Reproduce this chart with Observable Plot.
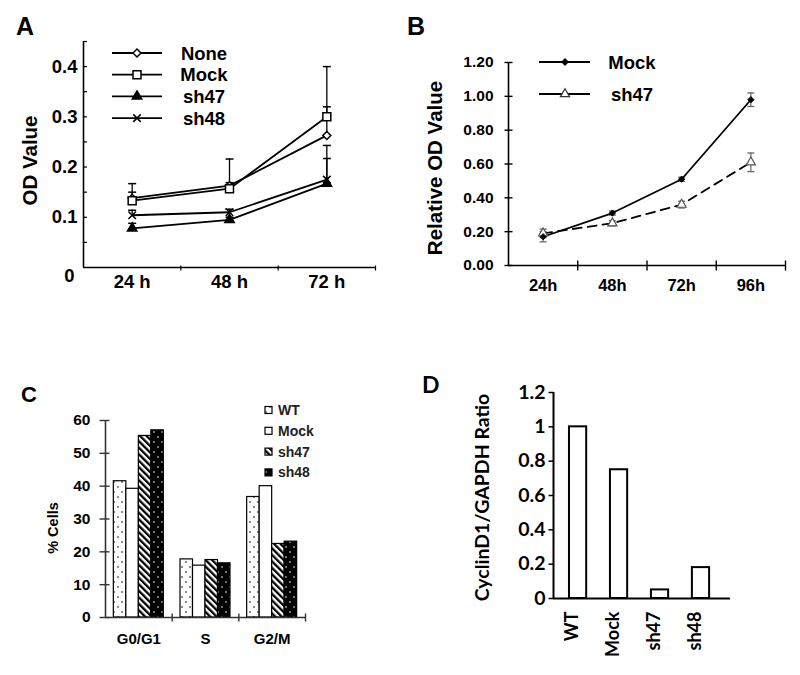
<!DOCTYPE html>
<html>
<head>
<meta charset="utf-8">
<script src="https://cdn.jsdelivr.net/npm/d3@7"></script>
<script src="https://cdn.jsdelivr.net/npm/@observablehq/plot@0.6"></script>
<style>
html,body{margin:0;padding:0;background:#fff;}
#fig{position:relative;width:800px;height:675px;overflow:hidden;background:#fff;}
#fig svg{position:absolute;}
</style>
</head>
<body>
<div id="fig"></div>
<script>
// ---------------- Panel A data ----------------
const aTimes = ["24 h", "48 h", "72 h"];
const aSeries = ["None", "Mock", "sh47", "sh48"];
const aNone = [0.138, 0.163, 0.263];
const aMock = [0.133, 0.157, 0.300];
const aSh47 = [0.078, 0.095, 0.167];
const aSh48 = [0.104, 0.110, 0.175];
const aNoneErr = [0.012, 0.006, 0.057];
const aMockErr = [0.034, 0.059, 0.100];
const aSh47Err = [0.010, 0.005, 0.050];
const aSh48Err = [0.010, 0.006, 0.068];
const aYTicks = [0.1, 0.2, 0.3, 0.4];
const aMinorTicks = [0.05, 0.1, 0.15, 0.2, 0.25, 0.3, 0.35, 0.4, 0.45];
const aYLabel = "OD Value";

// ---------------- Panel B data ----------------
const bTimes = ["24h", "48h", "72h", "96h"];
const bSeries = ["Mock", "sh47"];
const bMock = [0.17, 0.31, 0.51, 0.98];
const bSh47 = [0.19, 0.25, 0.36, 0.61];
const bMockErr = [0.03, 0.012, 0.012, 0.04];
const bSh47Err = [0.025, 0.015, 0.02, 0.055];
const bYTicks = [0, 0.2, 0.4, 0.6, 0.8, 1.0, 1.2];
const bYLabel = "Relative OD Value";

// ---------------- Panel C data ----------------
const cPhases = ["G0/G1", "S", "G2/M"];
const cSeries = ["WT", "Mock", "sh47", "sh48"];
const cWT = [41.5, 17.7, 36.7];
const cMock = [39.2, 15.8, 40.0];
const cSh47 = [55.3, 17.5, 22.4];
const cSh48 = [57.0, 16.5, 23.1];
const cYTicks = [0, 10, 20, 30, 40, 50, 60];
const cYLabel = "% Cells";

// ---------------- Panel D data ----------------
const dGroups = ["WT", "Mock", "sh47", "sh48"];
const dValues = [1.0, 0.75, 0.05, 0.18];
const dYTicks = [0, 0.2, 0.4, 0.6, 0.8, 1, 1.2];
const dYLabel = "CyclinD1/GAPDH Ratio";

// ---------------- helpers ----------------
const FONT = '"Liberation Sans", Arial, sans-serif';
const FONT_D = 'Lato, "Open Sans", sans-serif';
const fig = document.getElementById("fig");
const segH = (a, b) => ({draw(ctx) { ctx.moveTo(a, 0); ctx.lineTo(b, 0); }});
const segV = (a, b) => ({draw(ctx) { ctx.moveTo(0, a); ctx.lineTo(0, b); }});
const symbolMap = {diamond2: d3.symbolDiamond2, square: d3.symbolSquare, triangle: d3.symbolTriangle, times: d3.symbolTimes};
const txt = (o) => Object.assign({fontFamily: FONT, fontWeight: "bold", fill: "black"}, o);
function place(svg, left, top) {
  svg.style.left = left + "px";
  svg.style.top = top + "px";
  fig.appendChild(svg);
  return d3.select(svg);
}
function label(g, x, y, s, size, family, anchor) {
  return g.append("text").attr("x", x).attr("y", y).text(s)
    .style("font-family", family || FONT).style("font-weight", "bold")
    .style("font-size", size + "px").attr("fill", "black")
    .attr("text-anchor", anchor || "start");
}

// ---------------- patterns ----------------
const defsSvg = d3.select(fig).append("svg").attr("width", 0).attr("height", 0);
const defs = defsSvg.append("defs");
let p = defs.append("pattern").attr("id", "patWT").attr("patternUnits", "userSpaceOnUse").attr("width", 8).attr("height", 10);
p.append("rect").attr("width", 8).attr("height", 10).attr("fill", "white");
p.append("circle").attr("cx", 2).attr("cy", 2).attr("r", 0.8).attr("fill", "black");
p.append("circle").attr("cx", 6).attr("cy", 7).attr("r", 0.8).attr("fill", "black");
p = defs.append("pattern").attr("id", "patSh48").attr("patternUnits", "userSpaceOnUse").attr("width", 8).attr("height", 10);
p.append("rect").attr("width", 8).attr("height", 10).attr("fill", "black");
p.append("circle").attr("cx", 2).attr("cy", 2).attr("r", 0.8).attr("fill", "white");
p.append("circle").attr("cx", 6).attr("cy", 7).attr("r", 0.8).attr("fill", "white");
p = defs.append("pattern").attr("id", "patSh47").attr("patternUnits", "userSpaceOnUse").attr("width", 4.6).attr("height", 4.6).attr("patternTransform", "rotate(-45)");
p.append("rect").attr("width", 4.6).attr("height", 4.6).attr("fill", "white");
p.append("rect").attr("width", 2.3).attr("height", 4.6).attr("fill", "black");

// ================= Panel A =================
{
  const aValues = [aNone, aMock, aSh47, aSh48];
  const aErrs = [aNoneErr, aMockErr, aSh47Err, aSh48Err];
  const aSymbols = ["diamond2", "square", "triangle", "times"];
  const aFills = ["white", "white", "black", "none"];
  const aSizes = [3.6, 4.5, 3.5, 3.5];
  const aData = aSeries.flatMap((s, si) => aTimes.map((t, i) => ({s, i, v: aValues[si][i], e: aErrs[si][i]})));
  const xDom = [-0.5, aTimes.length - 0.5];
  const yDom = [0, 0.45];
  const plot = Plot.plot({
    width: 400, height: 320, marginLeft: 83, marginRight: 25, marginTop: 41, marginBottom: 53,
    x: {domain: xDom, axis: null}, y: {domain: yDom, axis: null},
    style: {background: "transparent", color: "black", overflow: "visible"},
    marks: [
      Plot.ruleX([xDom[0]], {y1: yDom[0], y2: yDom[1], stroke: "black", strokeWidth: 1.6}),
      Plot.ruleY([0], {x1: xDom[0], x2: xDom[1], stroke: "black", strokeWidth: 1.6}),
      Plot.dot(aMinorTicks, {y: d => d, frameAnchor: "left", symbol: segH(0, 3.5), fill: "none", stroke: "black", strokeWidth: 1.2}),
      Plot.dot(aTimes.map((t, i) => i + 0.5), {x: d => d, frameAnchor: "bottom", symbol: segV(-2, 3), fill: "none", stroke: "black", strokeWidth: 1.2}),
      Plot.text(aYTicks, txt({y: d => d, frameAnchor: "left", dx: -6, textAnchor: "end", text: d => d.toFixed(1), fontSize: 18.5})),
      Plot.text([0], txt({y: d => d, frameAnchor: "left", dx: -9, dy: 9, textAnchor: "end", text: d => String(d), fontSize: 18.5})),
      Plot.text(aTimes, txt({x: (d, i) => i, frameAnchor: "bottom", dy: 20, text: d => d, fontSize: 18.5})),
      Plot.text([aYLabel], txt({frameAnchor: "left", dx: -53, dy: 6, rotate: -90, textAnchor: "middle", text: d => d, fontSize: 20.5})),
      Plot.ruleX(aData, {x: "i", y1: "v", y2: d => d.v + d.e, stroke: "black", strokeWidth: 1.3}),
      Plot.dot(aData, {x: "i", y: d => d.v + d.e, symbol: segH(-4, 4), fill: "none", stroke: "black", strokeWidth: 1.5}),
      Plot.line(aData, {x: "i", y: "v", z: "s", stroke: "black", strokeWidth: 1.8}),
      ...aSeries.map((s, si) => Plot.dot(aData.filter(d => d.s === s), {x: "i", y: "v", symbol: aSymbols[si], r: aSizes[si], fill: aFills[si], stroke: "black", strokeWidth: 1.5}))
    ]
  });
  const g = place(plot, 0, 0);
  label(g, 16, 35, "A", 25);
  aSeries.forEach((s, si) => {
    const y = 53 + si * 21.7;
    g.append("line").attr("x1", 112).attr("x2", 162).attr("y1", y).attr("y2", y).attr("stroke", "black").attr("stroke-width", 1.8);
    g.append("path").attr("transform", `translate(137,${y})`)
      .attr("d", d3.symbol(symbolMap[aSymbols[si]], Math.PI * aSizes[si] ** 2)())
      .attr("fill", aFills[si]).attr("stroke", "black").attr("stroke-width", 1.5);
    label(g, 204, y + 6.5, s, 18.5, FONT, "middle");
  });
}

// ================= Panel B =================
{
  const bValues = [bMock, bSh47];
  const bErrs = [bMockErr, bSh47Err];
  const bData = bSeries.flatMap((s, si) => bTimes.map((t, i) => ({s, i, v: bValues[si][i], e: bErrs[si][i]})));
  const xDom = [-0.5, bTimes.length - 0.5];
  const yDom = [0, 1.2];
  const plot = Plot.plot({
    width: 400, height: 320, marginLeft: 108, marginRight: 15, marginTop: 62, marginBottom: 55,
    x: {domain: xDom, axis: null}, y: {domain: yDom, axis: null},
    style: {background: "transparent", color: "black", overflow: "visible"},
    marks: [
      Plot.ruleX([xDom[0]], {y1: yDom[0], y2: yDom[1], stroke: "black", strokeWidth: 1.6}),
      Plot.ruleY([0], {x1: xDom[0], x2: xDom[1], stroke: "black", strokeWidth: 1.6}),
      Plot.dot(bYTicks, {y: d => d, frameAnchor: "left", symbol: segH(-4, 4), fill: "none", stroke: "black", strokeWidth: 1.4}),
      Plot.dot(bTimes.map((t, i) => i + 0.5), {x: d => d, frameAnchor: "bottom", symbol: segV(-5, 5), fill: "none", stroke: "black", strokeWidth: 1.4}),
      Plot.text(bYTicks, txt({y: d => d, frameAnchor: "left", dx: -15, textAnchor: "end", text: d => d.toFixed(2), fontSize: 15.5})),
      Plot.text(bTimes, txt({x: (d, i) => i, frameAnchor: "bottom", dy: 25, text: d => d, fontSize: 16.5})),
      Plot.text([bYLabel], txt({frameAnchor: "left", dx: -73, dy: 4, rotate: -90, textAnchor: "middle", text: d => d, fontSize: 20.5})),
      Plot.ruleX(bData, {x: "i", y1: d => d.v - d.e, y2: d => d.v + d.e, stroke: "#666", strokeWidth: 1.2}),
      Plot.dot(bData, {x: "i", y: d => d.v + d.e, symbol: segH(-3.5, 3.5), fill: "none", stroke: "#666", strokeWidth: 1.3}),
      Plot.dot(bData, {x: "i", y: d => d.v - d.e, symbol: segH(-3.5, 3.5), fill: "none", stroke: "#666", strokeWidth: 1.3}),
      Plot.line(bData.filter(d => d.s === bSeries[1]), {x: "i", y: "v", stroke: "black", strokeWidth: 1.8, strokeDasharray: "9,6"}),
      Plot.line(bData.filter(d => d.s === bSeries[0]), {x: "i", y: "v", stroke: "black", strokeWidth: 1.8}),
      Plot.dot(bData.filter(d => d.s === bSeries[1]), {x: "i", y: "v", symbol: "triangle", r: 3.4, fill: "white", stroke: "#555", strokeWidth: 1.2}),
      Plot.dot(bData.filter(d => d.s === bSeries[0]), {x: "i", y: "v", symbol: "diamond2", r: 2.8, fill: "black", stroke: "black", strokeWidth: 1})
    ]
  });
  const g = place(plot, 400, 0);
  label(g, 7, 35, "B", 25);
  const legSym = [["diamond2", 2.8, "black", "black"], ["triangle", 3.4, "white", "#333"]];
  bSeries.forEach((s, si) => {
    const y = 62 + si * 32;
    g.append("line").attr("x1", 139).attr("x2", 190).attr("y1", y).attr("y2", y).attr("stroke", "black").attr("stroke-width", 1.8);
    g.append("path").attr("transform", `translate(165,${y})`)
      .attr("d", d3.symbol(symbolMap[legSym[si][0]], Math.PI * legSym[si][1] ** 2)())
      .attr("fill", legSym[si][2]).attr("stroke", legSym[si][3]).attr("stroke-width", 1.2);
    label(g, 232, y + 6.5, s, 18.5, FONT, "middle");
  });
}

// ================= Panel C =================
{
  const cValues = [cWT, cMock, cSh47, cSh48];
  const cFills = ["url(#patWT)", "white", "url(#patSh47)", "url(#patSh48)"];
  const groupW = 0.75;
  const barW = groupW / cSeries.length;
  const cData = cSeries.flatMap((s, si) => cPhases.map((ph, gi) => ({s, si, gi, v: cValues[si][gi]})));
  const xDom = [-0.5, cPhases.length - 0.5];
  const yDom = [0, 60];
  const plot = Plot.plot({
    width: 400, height: 345, marginLeft: 105, marginRight: 95, marginTop: 90, marginBottom: 58,
    x: {domain: xDom, axis: null}, y: {domain: yDom, axis: null},
    color: {type: "ordinal", domain: cSeries, range: cFills},
    style: {background: "transparent", color: "black", overflow: "visible"},
    marks: [
      Plot.rect(cData, {x1: d => d.gi - groupW / 2 + d.si * barW, x2: d => d.gi - groupW / 2 + (d.si + 1) * barW, y1: 0, y2: "v", fill: "s", stroke: "black", strokeWidth: 1.2}),
      Plot.ruleX([xDom[0]], {y1: yDom[0], y2: yDom[1], stroke: "#333", strokeWidth: 1.6}),
      Plot.ruleY([0], {x1: xDom[0], x2: xDom[1], stroke: "#333", strokeWidth: 1.6}),
      Plot.dot(cYTicks, {y: d => d, frameAnchor: "left", symbol: segH(-6, 4), fill: "none", stroke: "#333", strokeWidth: 1.4}),
      Plot.dot(cPhases.map((t, i) => i + 0.5), {x: d => d, frameAnchor: "bottom", symbol: segV(-4, 4), fill: "none", stroke: "#333", strokeWidth: 1.4}),
      Plot.text(cYTicks, txt({y: d => d, frameAnchor: "left", dx: -15, textAnchor: "end", text: d => String(d), fontSize: 15.5})),
      Plot.text(cPhases, txt({x: (d, i) => i, frameAnchor: "bottom", dy: 26, text: d => d, fontSize: 15})),
      Plot.text([cYLabel], txt({frameAnchor: "left", dx: -52, dy: 9, rotate: -90, textAnchor: "middle", text: d => d, fontSize: 14.5}))
    ]
  });
  const g = place(plot, 0, 330);
  label(g, 21, 72, "C", 22);
  cSeries.forEach((s, si) => {
    const y = 80 + si * 20.8;
    g.append("rect").attr("x", 265).attr("y", y - 3.5).attr("width", 7).attr("height", 7)
      .attr("fill", cFills[si]).attr("stroke", "black").attr("stroke-width", 1.2);
    label(g, 278, y + 5, s, 14, FONT, "start").attr("fill", "#222");
  });
}

// ================= Panel D =================
{
  const dData = dGroups.map((grp, i) => ({grp, i, v: dValues[i]}));
  const xDom = [-0.6, 3.72];
  const yDom = [0, 1.2];
  const barHalf = 0.21;
  const plot = Plot.plot({
    width: 400, height: 345, marginLeft: 153, marginRight: 70, marginTop: 62, marginBottom: 77,
    x: {domain: xDom, axis: null}, y: {domain: yDom, axis: null},
    style: {background: "transparent", color: "black", overflow: "visible"},
    marks: [
      Plot.rect(dData, {x1: d => d.i - barHalf, x2: d => d.i + barHalf, y1: 0, y2: "v", fill: "white", stroke: "black", strokeWidth: 2}),
      Plot.ruleX([xDom[0]], {y1: yDom[0], y2: yDom[1], stroke: "black", strokeWidth: 2}),
      Plot.ruleY([0], {x1: xDom[0], x2: xDom[1], stroke: "black", strokeWidth: 2}),
      Plot.dot(dYTicks, {y: d => d, frameAnchor: "left", symbol: segH(-5, 0), fill: "none", stroke: "black", strokeWidth: 1.5}),
      Plot.text(dYTicks, {y: d => d, frameAnchor: "left", dx: -8, textAnchor: "end", text: d => String(d), fontSize: 19.5, fontWeight: "bold", fontFamily: FONT_D, fill: "black"}),
      Plot.text(dGroups, {x: (d, i) => i, frameAnchor: "bottom", dy: 13, rotate: -90, textAnchor: "end", text: d => d, fontSize: 18, fontWeight: "bold", fontFamily: FONT_D, fill: "black"}),
      Plot.text([dYLabel], {frameAnchor: "left", dx: -71, dy: 2, rotate: -90, textAnchor: "middle", text: d => d, fontSize: 19.5, fontWeight: "bold", fontFamily: FONT_D, fill: "black"})
    ]
  });
  const g = place(plot, 400, 330);
  label(g, 22, 63, "D", 23, FONT_D);
}
</script>
</body>
</html>
